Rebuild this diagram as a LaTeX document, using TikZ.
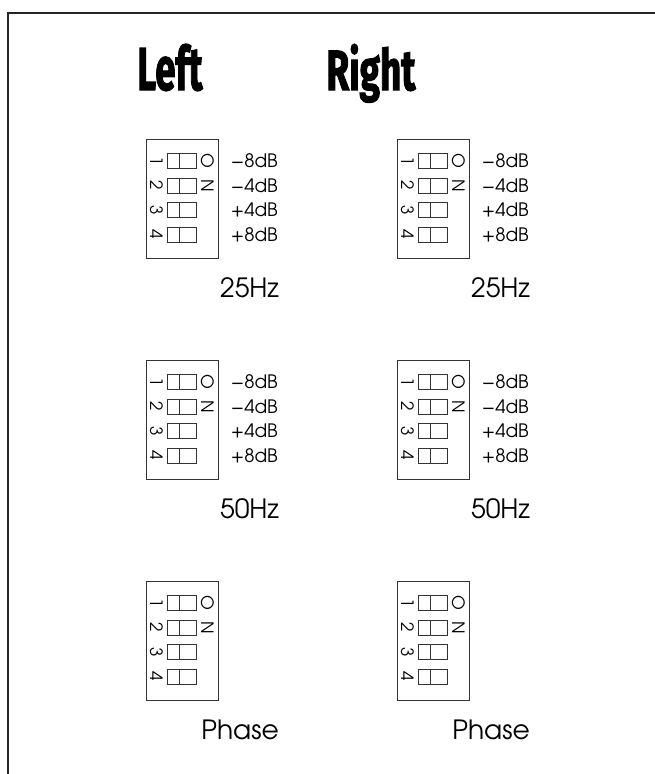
\documentclass[tikz,border=0pt]{standalone}
\usepackage{fontspec}
\setmainfont{texgyreadventor-regular.otf}
\newfontfamily\titlefont{Fira Sans}[FakeBold=2.2]
\begin{document}
\begin{tikzpicture}[x=1pt,y=-1pt]
\tikzset{
 frame/.style={line width=1.1pt, draw=black!85},
 dipbox/.style={draw=black!80, line width=0.9pt, inner sep=0pt, minimum width=72pt, minimum height=119pt, anchor=north west},
 sw/.style={draw=black!80, line width=0.9pt, inner sep=0pt, minimum width=29pt, minimum height=15pt, anchor=west},
 num/.style={font=\fontsize{17}{17}\selectfont, rotate=-90, inner sep=0pt},
 onl/.style={font=\fontsize{17}{17}\selectfont, rotate=-90, inner sep=0pt},
 dBl/.style={font=\fontsize{18.5}{18.5}\selectfont, anchor=east, inner sep=0pt},
 freq/.style={font=\fontsize{26.5}{26.5}\selectfont, anchor=base east, inner sep=0pt},
 ttl/.style={font=\titlefont\bfseries, anchor=base, inner sep=0pt},
}
\useasboundingbox (0,0) rectangle (655,774);
\coordinate (fr-tr) at (655,13);
\coordinate (fr-tl) at (8,13);
\coordinate (fr-bl) at (8,774);
\draw[frame] (fr-tr) -- (fr-tl) -- (fr-bl);

\node[ttl] (t-L) at (170,90) {\resizebox{65pt}{46pt}{Left}};
\node[ttl] (t-R) at (371,90) {\resizebox{89pt}{46pt}{Right}};

\foreach \c/\x in {L/146, R/397}{
  \foreach \r/\y/\lab in {a/139/25Hz, b/360/50Hz, c/581/Phase}{
    \node[dipbox] (box-\c-\r) at (\x,\y) {};
    \foreach \i/\d in {0/1,1/2,2/3,3/4}{
      \node[sw] (sw-\c-\r-\d) at (\x+21,\y+22+24.5*\i) {};
      \draw[black!80, line width=0.9pt] ([xshift=12pt]sw-\c-\r-\d.north west) -- ([xshift=12pt]sw-\c-\r-\d.south west);
      \node[num] (n-\c-\r-\d) at (\x+10.5,\y+22+24.5*\i) {\d};
    }
    \node[onl] (on-O-\c-\r) at (\x+61.5,\y+22) {O};
    \node[onl] (on-N-\c-\r) at (\x+61.5,\y+46.5) {N};
    \node[freq] (lab-\c-\r) at (\x+133,\y+158) {\lab};
  }
  \foreach \r/\y in {a/139, b/360}{
    \foreach \i/\t in {0/−8dB,1/−4dB,2/+4dB,3/+8dB}{
      \node[dBl] (db-\c-\r-\i) at (\x+132,\y+22+24.5*\i) {\t};
    }
  }
}
\end{tikzpicture}
\end{document}
